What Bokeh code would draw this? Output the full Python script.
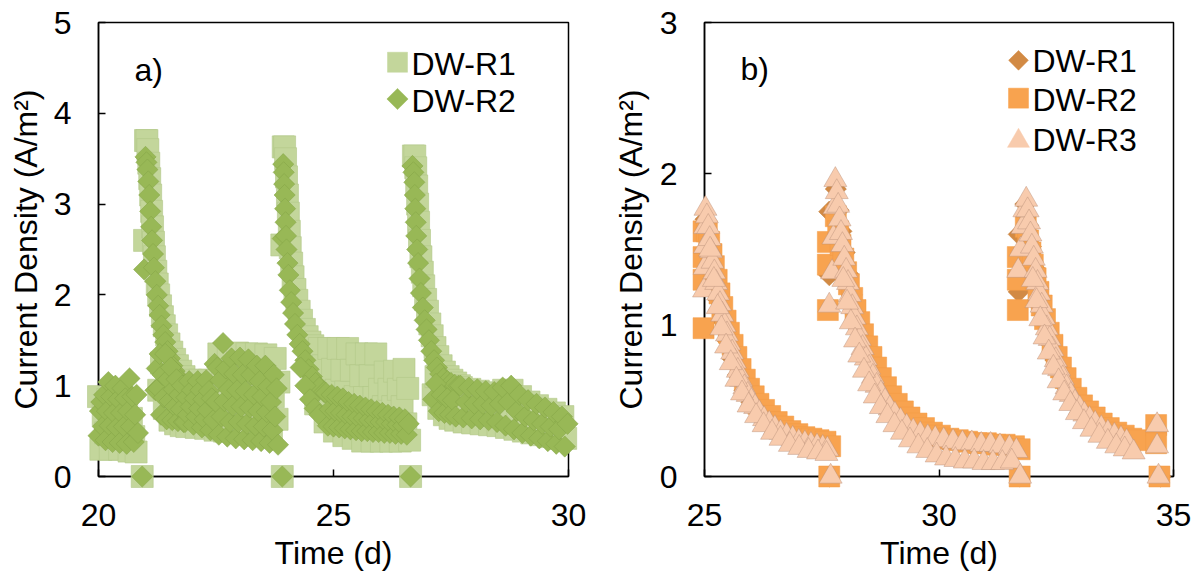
import numpy as np
from bokeh.plotting import figure
from bokeh.layouts import row
from bokeh.models import Label, FixedTicker
from bokeh.embed import file_html
from bokeh.resources import INLINE

# ---------------- data : panel a ----------------
A_X_TICKS = [20, 25, 30]
A_Y_TICKS = [0, 1, 2, 3, 4, 5]
A_SERIES = ["DW-R1", "DW-R2"]

A_R1_T = [
    20.00, 20.05, 20.10, 20.15, 20.20, 20.25, 20.30, 20.35, 20.40, 20.45,
    20.50, 20.55, 20.60, 20.65, 20.70, 20.75, 20.80,
    20.93,
    20.98, 21.00, 21.03, 21.05, 21.07, 21.09, 21.11, 21.13, 21.15, 21.17,
    21.19, 21.22, 21.25, 21.28, 21.32, 21.36, 21.40, 21.45, 21.50, 21.56,
    21.62, 21.68, 21.75, 21.82, 21.90,
    21.28, 21.34, 21.40, 21.46, 21.52, 21.58, 21.64, 21.70, 21.76, 21.82,
    21.88, 21.92, 21.96, 22.00, 22.04, 22.08, 22.12, 22.16, 22.20, 22.24,
    22.28, 22.32, 22.36, 22.40, 22.44, 22.48, 22.52, 22.56, 22.60, 22.64,
    22.68, 22.72, 22.76, 22.80, 22.84, 22.88, 22.92, 22.96, 23.00, 23.04,
    23.08, 23.12, 23.16, 23.20, 23.24, 23.28, 23.32, 23.36, 23.40, 23.44,
    23.48, 23.52, 23.56, 23.60, 23.64, 23.68, 23.72, 23.76, 23.80, 23.84,
    23.91,
    23.90, 23.93, 23.96, 23.98, 24.00, 24.02, 24.04, 24.06, 24.08, 24.11,
    24.14, 24.18, 24.22, 24.27, 24.32, 24.38, 24.44, 24.50, 24.56,
    24.62, 24.66, 24.70, 24.74, 24.78, 24.82, 24.86, 24.90, 24.94, 24.98,
    25.02, 25.06, 25.10, 25.14, 25.18, 25.22, 25.26, 25.30, 25.34, 25.38,
    25.42, 25.46, 25.50, 25.54, 25.58, 25.62, 25.66, 25.70, 25.74, 25.78,
    25.82, 25.86, 25.90, 25.94, 25.98, 26.02, 26.06, 26.10, 26.14, 26.18,
    26.22, 26.26, 26.30, 26.34, 26.38, 26.42, 26.46, 26.50, 26.54, 26.58,
    26.62,
    26.64,
    26.70, 26.73, 26.75, 26.77, 26.79, 26.81, 26.83, 26.86, 26.89, 26.92,
    26.96, 27.00, 27.05, 27.10, 27.16, 27.22, 27.29, 27.36, 27.44, 27.52,
    27.60, 27.68,
    27.12, 27.18, 27.24, 27.30, 27.36, 27.42, 27.48, 27.54, 27.60, 27.66,
    27.72, 27.78, 27.84, 27.90, 27.96, 28.02, 28.08, 28.14, 28.20, 28.26,
    28.32, 28.38, 28.44, 28.50, 28.56, 28.62, 28.68, 28.74, 28.80, 28.86,
    28.92, 28.98, 29.04, 29.10, 29.16, 29.22, 29.28, 29.34, 29.40, 29.46,
    29.52, 29.58, 29.64, 29.70, 29.76, 29.82, 29.88, 29.94,
]
A_R1_Y = [
    0.88, 0.30, 0.68, 0.48, 0.85, 0.30, 0.66, 0.46, 0.88, 0.30,
    0.66, 0.46, 0.82, 0.28, 0.64, 0.44, 0.27,
    0.00,
    2.60, 3.70, 3.70, 3.60, 3.45, 3.28, 3.10, 2.92, 2.75, 2.58,
    2.42, 2.26, 2.12, 2.00, 1.88, 1.76, 1.66, 1.56, 1.46, 1.37,
    1.29, 1.22, 1.16, 1.10, 1.05,
    0.95, 1.25, 0.75, 1.05, 0.62, 0.90, 0.58, 0.85, 0.56, 0.82,
    0.55, 0.80, 1.06, 0.67, 0.93, 0.54, 0.80, 1.06, 0.66, 0.93,
    0.53, 0.79, 1.06, 0.66, 0.97, 0.51, 0.90, 1.35, 0.71, 1.14,
    0.50, 0.93, 1.35, 0.71, 1.14, 0.50, 0.92, 1.36, 0.71, 1.14,
    0.49, 0.92, 1.35, 0.71, 1.13, 0.48, 0.91, 1.35, 0.69, 1.13,
    0.47, 0.90, 1.34, 0.68, 1.11, 0.44, 0.88, 1.30, 0.63, 1.04,
    0.00,
    2.55, 3.63, 3.63, 3.50, 3.30, 3.10, 2.90, 2.70, 2.52, 2.35,
    2.20, 2.06, 1.94, 1.82, 1.72, 1.62, 1.54, 1.48, 1.44,
    0.80, 1.08, 1.41, 0.86, 1.22, 0.60, 0.99, 1.41, 0.75, 1.18,
    0.50, 0.95, 1.41, 0.70, 1.17, 0.45, 0.93, 1.41, 0.67, 1.17,
    0.42, 0.88, 1.35, 0.64, 1.11, 0.39, 0.87, 1.35, 0.63, 1.11,
    0.39, 0.87, 1.35, 0.63, 0.96, 0.39, 0.77, 1.15, 0.58, 0.96,
    0.39, 0.77, 1.16, 0.58, 0.96, 0.39, 0.77, 1.18, 0.58, 0.97,
    0.40,
    0.00,
    3.53, 3.53, 3.40, 3.20, 3.00, 2.80, 2.60, 2.42, 2.25, 2.10,
    1.95, 1.82, 1.68, 1.55, 1.42, 1.32, 1.22, 1.15, 1.10, 1.06,
    1.03, 1.00,
    0.90, 1.10, 0.75, 0.95, 0.68, 0.88, 0.64, 0.84, 0.62, 0.82,
    0.98, 0.60, 0.78, 0.96, 0.59, 0.76, 0.94, 0.58, 0.75, 0.92,
    0.57, 0.74, 0.92, 0.56, 0.74, 0.95, 0.54, 0.76, 0.95, 0.52,
    0.70, 0.88, 0.50, 0.66, 0.82, 0.48, 0.62, 0.78, 0.46, 0.60,
    0.74, 0.44, 0.57, 0.70, 0.42, 0.54, 0.66, 0.42,
]

A_R2_T = [
    20.00, 20.03, 20.06, 20.09, 20.12, 20.15, 20.18, 20.21, 20.24, 20.27,
    20.30, 20.33, 20.36, 20.39, 20.42, 20.45, 20.48, 20.51, 20.54, 20.57,
    20.60, 20.63, 20.66, 20.69, 20.72, 20.75, 20.78, 20.81, 20.84,
    20.93,
    20.97, 21.00, 21.02, 21.04, 21.06, 21.08, 21.10, 21.12, 21.14, 21.16,
    21.18, 21.21, 21.24, 21.27, 21.30, 21.34, 21.38, 21.42, 21.47, 21.52,
    21.57, 21.62, 21.68, 21.74, 21.80,
    21.21, 21.24, 21.27, 21.30, 21.33, 21.36, 21.39, 21.42, 21.45, 21.48,
    21.51, 21.54, 21.57, 21.60, 21.63, 21.66, 21.69, 21.72, 21.75, 21.78,
    21.81,
    21.84, 21.87, 21.90, 21.93, 21.96, 21.99, 22.02, 22.05, 22.08, 22.11,
    22.14, 22.17, 22.20, 22.23, 22.26, 22.29, 22.32, 22.35, 22.38, 22.41,
    22.44, 22.47, 22.50, 22.53, 22.56, 22.59, 22.62, 22.65, 22.68, 22.71,
    22.74, 22.77, 22.80, 22.83, 22.86, 22.89, 22.92, 22.95, 22.98, 23.01,
    23.04, 23.07, 23.10, 23.13, 23.16, 23.19, 23.22, 23.25, 23.28, 23.31,
    23.34, 23.37, 23.40, 23.43, 23.46, 23.49, 23.52, 23.55, 23.58, 23.61,
    23.64, 23.67, 23.70, 23.73, 23.76, 23.79, 23.82,
    23.91,
    23.92, 23.93, 23.94, 23.95, 23.96, 23.97, 23.98, 23.99, 24.00, 24.02,
    24.04, 24.07, 24.10, 24.14, 24.18, 24.23, 24.28, 24.34, 24.40, 24.47,
    24.54, 24.62, 24.70, 24.80,
    24.30, 24.40, 24.50, 24.60, 24.70,
    24.84, 24.88, 24.92, 24.96, 25.00, 25.04, 25.08, 25.12, 25.16, 25.20,
    25.24, 25.28, 25.32, 25.36, 25.40, 25.44, 25.48, 25.52, 25.56, 25.60,
    25.64, 25.68, 25.72, 25.76, 25.80, 25.84, 25.88, 25.92, 25.96, 26.00,
    26.04, 26.08, 26.12, 26.16, 26.20, 26.24, 26.28, 26.32, 26.36, 26.40,
    26.44, 26.48, 26.52, 26.56, 26.60,
    26.64,
    26.68, 26.70, 26.72, 26.73, 26.74, 26.75, 26.76, 26.78, 26.80, 26.83,
    26.86, 26.90, 26.94, 26.98, 27.03, 27.08, 27.14, 27.20, 27.27, 27.34,
    27.42, 27.50, 27.58, 27.66,
    27.12, 27.18, 27.24, 27.30, 27.36, 27.42, 27.48, 27.54, 27.60,
    27.70, 27.76, 27.82, 27.88, 27.94, 28.00, 28.06, 28.12, 28.18, 28.24,
    28.30, 28.36, 28.42, 28.48, 28.54, 28.60, 28.66, 28.72, 28.78, 28.84,
    28.90, 28.96, 29.02, 29.08, 29.14, 29.20, 29.26, 29.32, 29.38, 29.44,
    29.50, 29.56, 29.62, 29.68, 29.74, 29.80, 29.86, 29.92, 29.98,
]
A_R2_Y = [
    0.45, 0.72, 0.82, 0.55, 0.90, 0.40, 0.72, 1.04, 0.56, 0.88,
    0.38, 0.70, 1.00, 0.54, 0.85, 0.37, 0.70, 0.97, 0.55, 0.86,
    0.36, 0.72, 1.08, 0.55, 0.88, 0.38, 0.68, 0.90, 0.48,
    0.00,
    2.28, 3.52, 3.46, 3.38, 3.25, 3.10, 2.92, 2.75, 2.60, 2.45,
    2.30, 2.15, 2.00, 1.88, 1.78, 1.66, 1.56, 1.48, 1.38, 1.30,
    1.22, 1.16, 1.10, 1.05, 1.00,
    0.95, 1.19, 0.97, 1.35, 0.68, 1.12, 0.87, 1.35, 0.63, 1.07,
    0.83, 1.20, 0.62, 0.96, 0.77, 1.07, 0.61, 0.90, 0.74, 1.00,
    0.60,
    0.60, 0.87, 0.68, 1.05, 0.77, 0.95, 0.57, 0.86, 0.66, 1.05,
    0.75, 0.95, 0.54, 0.85, 0.63, 1.06, 0.73, 0.94, 0.51, 0.86,
    0.62, 1.24, 0.82, 1.20, 0.46, 1.06, 0.66, 1.47, 0.83, 1.19,
    0.44, 0.96, 0.60, 1.30, 0.78, 1.13, 0.42, 0.95, 0.60, 1.31,
    0.77, 1.12, 0.41, 0.94, 0.58, 1.29, 0.76, 1.12, 0.40, 0.90,
    0.56, 1.22, 0.72, 1.05, 0.39, 0.88, 0.55, 1.22, 0.71, 0.99,
    0.37, 0.82, 0.51, 1.12, 0.66, 0.97, 0.35,
    0.00,
    2.62, 3.44, 3.35, 3.22, 3.10, 2.95, 2.80, 2.65, 2.50, 2.35,
    2.22, 2.05, 1.92, 1.80, 1.68, 1.56, 1.46, 1.38, 1.28, 1.18,
    1.10, 1.03, 0.98, 0.93,
    1.20, 1.00, 0.85, 0.75, 0.68,
    0.92, 0.56, 0.74, 0.90, 0.55, 0.72, 0.88, 0.54, 0.70, 0.86,
    0.53, 0.68, 0.82, 0.52, 0.66, 0.80, 0.51, 0.65, 0.78, 0.50,
    0.64, 0.76, 0.50, 0.62, 0.74, 0.49, 0.62, 0.72, 0.49, 0.60,
    0.70, 0.48, 0.60, 0.68, 0.48, 0.58, 0.66, 0.47, 0.57, 0.65,
    0.47, 0.56, 0.63, 0.46, 0.58,
    0.00,
    3.42, 3.35, 3.24, 3.10, 2.95, 2.80, 2.65, 2.50, 2.35, 2.18,
    2.02, 1.86, 1.72, 1.62, 1.50, 1.38, 1.28, 1.20, 1.13, 1.08,
    1.05, 1.03, 1.01, 1.00,
    0.85, 1.02, 0.72, 0.90, 0.70, 0.86, 0.68, 0.84, 0.66,
    1.00, 0.65, 0.82, 0.98, 0.64, 0.80, 0.96, 0.63, 0.80, 0.94,
    0.62, 0.78, 0.93, 0.60, 0.80, 0.98, 0.56, 0.82, 1.00, 0.52,
    0.72, 0.90, 0.48, 0.66, 0.84, 0.45, 0.62, 0.80, 0.42, 0.58,
    0.76, 0.39, 0.55, 0.71, 0.36, 0.52, 0.66, 0.33, 0.58,
]

# ---------------- data : panel b ----------------
B_X_TICKS = [25, 30, 35]
B_Y_TICKS = [0, 1, 2, 3]
B_SERIES = ["DW-R1", "DW-R2", "DW-R3"]

B_R1_T = [
    25.02, 25.08, 25.14, 25.21, 25.29, 25.38, 25.48, 25.59, 25.71, 25.85,
    26.00, 26.17, 26.38, 26.62, 26.88, 27.14, 27.40, 27.62, 27.66,
    27.66, 27.66, 27.80, 27.86, 27.92, 27.99, 28.06, 28.14, 28.23, 28.33,
    28.44, 28.56, 28.70, 28.85, 29.02, 29.20, 29.40, 29.62, 29.86, 30.10,
    30.40, 30.70, 31.00, 31.30, 31.60, 31.72,
    31.70, 31.70, 31.84, 31.90, 31.96, 32.03, 32.10, 32.18, 32.27, 32.37,
    32.48, 32.60, 32.74, 32.89, 33.05, 33.23, 33.42, 33.62, 33.82, 34.02,
    34.22, 34.65, 34.72,
]
B_R1_Y = [
    1.70, 1.58, 1.45, 1.31, 1.17, 1.03, 0.90, 0.78, 0.67, 0.57,
    0.49, 0.42, 0.36, 0.31, 0.27, 0.24, 0.22, 0.21, 0.00,
    1.75, 1.33, 1.90, 1.76, 1.62, 1.48, 1.34, 1.20, 1.07, 0.95,
    0.83, 0.72, 0.62, 0.53, 0.45, 0.39, 0.33, 0.29, 0.26, 0.24,
    0.22, 0.21, 0.21, 0.20, 0.19, 0.00,
    1.60, 1.22, 1.80, 1.66, 1.52, 1.38, 1.25, 1.12, 1.00, 0.88,
    0.77, 0.67, 0.58, 0.50, 0.43, 0.37, 0.32, 0.28, 0.25, 0.23,
    0.22, 0.30, 0.00,
]

B_R2_T = [
    24.98, 24.98, 24.98, 24.98,
    25.05, 25.10, 25.15, 25.20, 25.26, 25.32, 25.38, 25.45, 25.52, 25.60,
    25.68, 25.77, 25.86, 25.95, 26.05, 26.15, 26.27, 26.40, 26.54, 26.68,
    26.83, 26.98, 27.13, 27.28, 27.43, 27.58, 27.68, 27.66,
    27.63, 27.63, 27.63,
    27.80, 27.85, 27.90, 27.96, 28.02, 28.08, 28.15, 28.22, 28.30, 28.38,
    28.47, 28.56, 28.66, 28.76, 28.87, 28.98, 29.10, 29.23, 29.37, 29.52,
    29.68, 29.85, 30.02, 30.20, 30.40, 30.60, 30.80, 31.00, 31.20, 31.40,
    31.60, 31.72, 31.72,
    31.68, 31.68, 31.68,
    31.85, 31.90, 31.95, 32.00, 32.06, 32.12, 32.19, 32.26, 32.34, 32.42,
    32.51, 32.60, 32.70, 32.81, 32.93, 33.05, 33.18, 33.32, 33.47, 33.62,
    33.78, 33.94, 34.10, 34.25,
    34.63, 34.63, 34.70,
]
B_R2_Y = [
    1.62, 1.45, 1.30, 0.98,
    1.62, 1.55, 1.47, 1.39, 1.30, 1.21, 1.12, 1.03, 0.95, 0.87,
    0.79, 0.71, 0.64, 0.58, 0.53, 0.48, 0.44, 0.40, 0.36, 0.33,
    0.30, 0.28, 0.26, 0.25, 0.24, 0.23, 0.20, 0.00,
    1.55, 1.40, 1.10,
    1.72, 1.62, 1.53, 1.44, 1.35, 1.27, 1.18, 1.10, 1.02, 0.94,
    0.86, 0.79, 0.72, 0.65, 0.59, 0.53, 0.48, 0.43, 0.39, 0.35,
    0.32, 0.29, 0.27, 0.25, 0.24, 0.23, 0.22, 0.22, 0.21, 0.21,
    0.20, 0.18, 0.00,
    1.45, 1.30, 1.10,
    1.65, 1.56, 1.48, 1.40, 1.31, 1.22, 1.13, 1.04, 0.95, 0.87,
    0.79, 0.72, 0.65, 0.58, 0.52, 0.47, 0.43, 0.39, 0.35, 0.32,
    0.29, 0.27, 0.25, 0.24,
    0.34, 0.22, 0.00,
]

B_R3_T = [
    24.99, 25.00, 25.01, 25.01, 25.02,
    25.05, 25.08, 25.11, 25.14, 25.17, 25.21, 25.25, 25.29, 25.33, 25.38,
    25.43, 25.48, 25.53, 25.59, 25.65, 25.71, 25.78, 25.85, 25.92, 26.00,
    26.08, 26.17, 26.27, 26.38, 26.50, 26.62, 26.75, 26.88, 27.01, 27.14,
    27.27, 27.40, 27.52, 27.62,
    25.12, 25.20, 25.28, 25.36, 25.46, 25.56, 25.68, 25.80, 25.94, 26.10,
    26.26, 26.44, 26.62, 26.82, 27.02, 27.22, 27.42, 27.60,
    27.69,
    27.66, 27.72, 27.75, 27.77, 27.79,
    27.82, 27.85, 27.88, 27.91, 27.94, 27.98, 28.02, 28.06, 28.10, 28.15,
    28.20, 28.25, 28.31, 28.37, 28.44, 28.51, 28.59, 28.67, 28.76, 28.85,
    28.95, 29.06, 29.18, 29.31, 29.45, 29.60, 29.76, 29.92, 30.10, 30.30,
    30.50, 30.70, 30.90, 31.10, 31.30, 31.50, 31.65,
    27.96, 28.04, 28.12, 28.21, 28.30, 28.40, 28.51, 28.63, 28.76, 28.90,
    29.05, 29.21, 29.38, 29.56, 29.75, 29.95, 30.15, 30.35, 30.55, 30.75,
    30.95, 31.15, 31.35, 31.55,
    31.73,
    31.69, 31.74, 31.78, 31.82, 31.86,
    31.89, 31.92, 31.95, 31.98, 32.02, 32.06, 32.10, 32.14, 32.19, 32.24,
    32.30, 32.36, 32.42, 32.49, 32.56, 32.64, 32.72, 32.81, 32.90, 33.00,
    33.10, 33.21, 33.33, 33.46, 33.60, 33.74, 33.88, 34.00,
    32.00, 32.08, 32.16, 32.25, 32.34, 32.44, 32.55, 32.67, 32.80, 32.94,
    33.09, 33.25, 33.42, 33.60, 33.78, 33.96, 34.15,
    34.65, 34.65, 34.68,
]
B_R3_Y = [
    1.23, 1.38, 1.52, 1.65, 1.77,
    1.72, 1.65, 1.57, 1.49, 1.42, 1.35, 1.28, 1.21, 1.14, 1.07,
    1.00, 0.94, 0.88, 0.82, 0.76, 0.70, 0.64, 0.59, 0.54, 0.50,
    0.46, 0.42, 0.38, 0.35, 0.32, 0.29, 0.27, 0.25, 0.23, 0.22,
    0.21, 0.20, 0.19, 0.18,
    1.50, 1.30, 1.12, 0.98, 0.86, 0.75, 0.64, 0.55, 0.47, 0.40,
    0.34, 0.29, 0.25, 0.21, 0.19, 0.17, 0.16, 0.15,
    0.00,
    1.13, 1.35, 1.58, 1.78, 1.96,
    1.88, 1.79, 1.70, 1.61, 1.53, 1.44, 1.36, 1.28, 1.20, 1.12,
    1.05, 0.98, 0.91, 0.85, 0.78, 0.72, 0.66, 0.60, 0.55, 0.50,
    0.45, 0.41, 0.37, 0.33, 0.30, 0.28, 0.26, 0.25, 0.24, 0.23,
    0.22, 0.22, 0.21, 0.21, 0.20, 0.19, 0.17,
    1.30, 1.15, 1.02, 0.90, 0.80, 0.70, 0.61, 0.53, 0.46, 0.40,
    0.34, 0.29, 0.24, 0.20, 0.17, 0.14, 0.12, 0.11, 0.10, 0.10,
    0.09, 0.09, 0.09, 0.10,
    0.00,
    1.36, 1.50, 1.65, 1.76, 1.83,
    1.76, 1.68, 1.60, 1.52, 1.44, 1.36, 1.28, 1.21, 1.13, 1.05,
    0.98, 0.91, 0.84, 0.77, 0.71, 0.65, 0.59, 0.54, 0.49, 0.45,
    0.41, 0.38, 0.35, 0.32, 0.29, 0.27, 0.25, 0.23,
    1.30, 1.16, 1.04, 0.92, 0.82, 0.72, 0.63, 0.55, 0.48, 0.42,
    0.36, 0.31, 0.27, 0.23, 0.20, 0.18, 0.16,
    0.34, 0.20, 0.00,
]

X_TITLE = "Time (d)"
Y_TITLE = "Current Density (A/m\u00b2)"

# ---------------- styling ----------------
FONT = "Liberation Sans"
FS = "32px"
A_COLORS = {"DW-R1": ("#C3D69B", "#B2C888"), "DW-R2": ("#98B856", "#83A246")}
B_COLORS = {"DW-R1": ("#D28A44", "#C17A36"), "DW-R2": ("#F8A34F", "#F39A45"),
            "DW-R3": ("#F8CBAD", "#B58C76")}

# frame geometry in page pixels (used only to place texts and legends)
A_FRAME = dict(x0=98, x1=568, y0=22, y1=479, xr=(20, 30), yr=(0, 5))
B_FRAME = dict(x0=704, x1=1173, y0=21, y1=477, xr=(25, 35), yr=(0, 3))
PAGE_H = 573


def px(fr, X, Y):
    xs = fr["xr"][0] + (X - fr["x0"]) / (fr["x1"] - fr["x0"]) * (fr["xr"][1] - fr["xr"][0])
    ys = fr["yr"][0] + (fr["y1"] - Y) / (fr["y1"] - fr["y0"]) * (fr["yr"][1] - fr["yr"][0])
    return xs, ys


def make_fig(left, width, fr, ylab_standoff):
    fh = fr["y1"] - fr["y0"]
    fw = fr["x1"] - fr["x0"]
    bl = fr["x0"] - left
    bt = fr["y0"]
    p = figure(width=width, height=PAGE_H, x_range=fr["xr"], y_range=fr["yr"],
               output_backend="svg", toolbar_location=None, title=None,
               min_border_left=bl, min_border_top=bt,
               min_border_right=width - bl - fw, min_border_bottom=PAGE_H - bt - fh)
    p.xgrid.visible = False
    p.ygrid.visible = False
    p.outline_line_color = "black"
    p.outline_line_width = 1.5
    p.background_fill_color = "white"
    p.border_fill_color = "white"
    for ax in (p.xaxis[0], p.yaxis[0]):
        ax.axis_line_width = 1.5
        ax.axis_line_color = "black"
        ax.major_tick_in = 7
        ax.major_tick_out = 0
        ax.major_tick_line_width = 1.5
        ax.major_tick_line_color = "black"
        ax.minor_tick_line_color = None
        ax.major_label_text_font = FONT
        ax.major_label_text_font_size = FS
        ax.major_label_text_color = "black"
        ax.axis_label_text_font = FONT
        ax.axis_label_text_font_size = FS
        ax.axis_label_text_font_style = "normal"
        ax.axis_label_text_color = "black"
    p.xaxis[0].major_label_standoff = 27
    p.yaxis[0].major_label_standoff = 27
    p.xaxis[0].axis_label = X_TITLE
    p.yaxis[0].axis_label = Y_TITLE
    p.xaxis[0].axis_label_standoff = 6
    p.yaxis[0].axis_label_standoff = ylab_standoff
    return p


def text(p, fr, X, Y, s):
    x, y = px(fr, X, Y)
    p.add_layout(Label(x=x, y=y, text=s, text_font=FONT, text_font_size=FS,
                       text_align="left", text_baseline="middle", text_color="black",
                       level="overlay"))


def legend_entry(p, fr, name, marker, size, angle, fill, mx, my, ty):
    x, y = px(fr, mx, my)
    p.scatter([x], [y], marker=marker, size=size, angle=angle, fill_color=fill,
              line_color=fill, line_width=0.5, level="overlay")
    text(p, fr, mx + 14, ty, name)


# ---------------- panel a ----------------
pa = make_fig(0, 600, A_FRAME, 7)
pa.xaxis[0].ticker = FixedTicker(ticks=A_X_TICKS)
pa.yaxis[0].ticker = FixedTicker(ticks=A_Y_TICKS)
f, l = A_COLORS["DW-R1"]
pa.scatter(A_R1_T, A_R1_Y, marker="square", size=22, fill_color=f, line_color=l,
           line_width=0.6, level="overlay")
f, l = A_COLORS["DW-R2"]
pa.scatter(A_R2_T, A_R2_Y, marker="square", size=15, angle=np.pi / 4, fill_color=f,
           line_color=l, line_width=0.5, level="overlay")
text(pa, A_FRAME, 134, 70, "a)")
legend_entry(pa, A_FRAME, A_SERIES[0], "square", 20, 0, A_COLORS["DW-R1"][0], 397, 62, 64)
legend_entry(pa, A_FRAME, A_SERIES[1], "square", 15, np.pi / 4, A_COLORS["DW-R2"][0], 397, 99, 101)

# ---------------- panel b ----------------
pb = make_fig(600, 593, B_FRAME, 8)
pb.xaxis[0].ticker = FixedTicker(ticks=B_X_TICKS)
pb.yaxis[0].ticker = FixedTicker(ticks=B_Y_TICKS)
f, l = B_COLORS["DW-R1"]
pb.scatter(B_R1_T, B_R1_Y, marker="square", size=15, angle=np.pi / 4, fill_color=f,
           line_color=l, line_width=0.5, level="overlay")
f, l = B_COLORS["DW-R2"]
pb.scatter(B_R2_T, B_R2_Y, marker="square", size=21, fill_color=f, line_color=l,
           line_width=0.5, level="overlay")
f, l = B_COLORS["DW-R3"]
pb.scatter(B_R3_T, B_R3_Y, marker="triangle", size=23, fill_color=f, line_color=l,
           line_width=0.6, line_alpha=0.7, level="overlay")
text(pb, B_FRAME, 740, 68, "b)")
legend_entry(pb, B_FRAME, B_SERIES[0], "square", 14, np.pi / 4, B_COLORS["DW-R1"][0], 1018, 59, 60)
legend_entry(pb, B_FRAME, B_SERIES[1], "square", 20, 0, B_COLORS["DW-R2"][0], 1018, 97, 99)
legend_entry(pb, B_FRAME, B_SERIES[2], "triangle", 22, 0, B_COLORS["DW-R3"][0], 1018, 140, 139)

layout = row(pa, pb)
open("out.html", "w").write(file_html(layout, INLINE))
